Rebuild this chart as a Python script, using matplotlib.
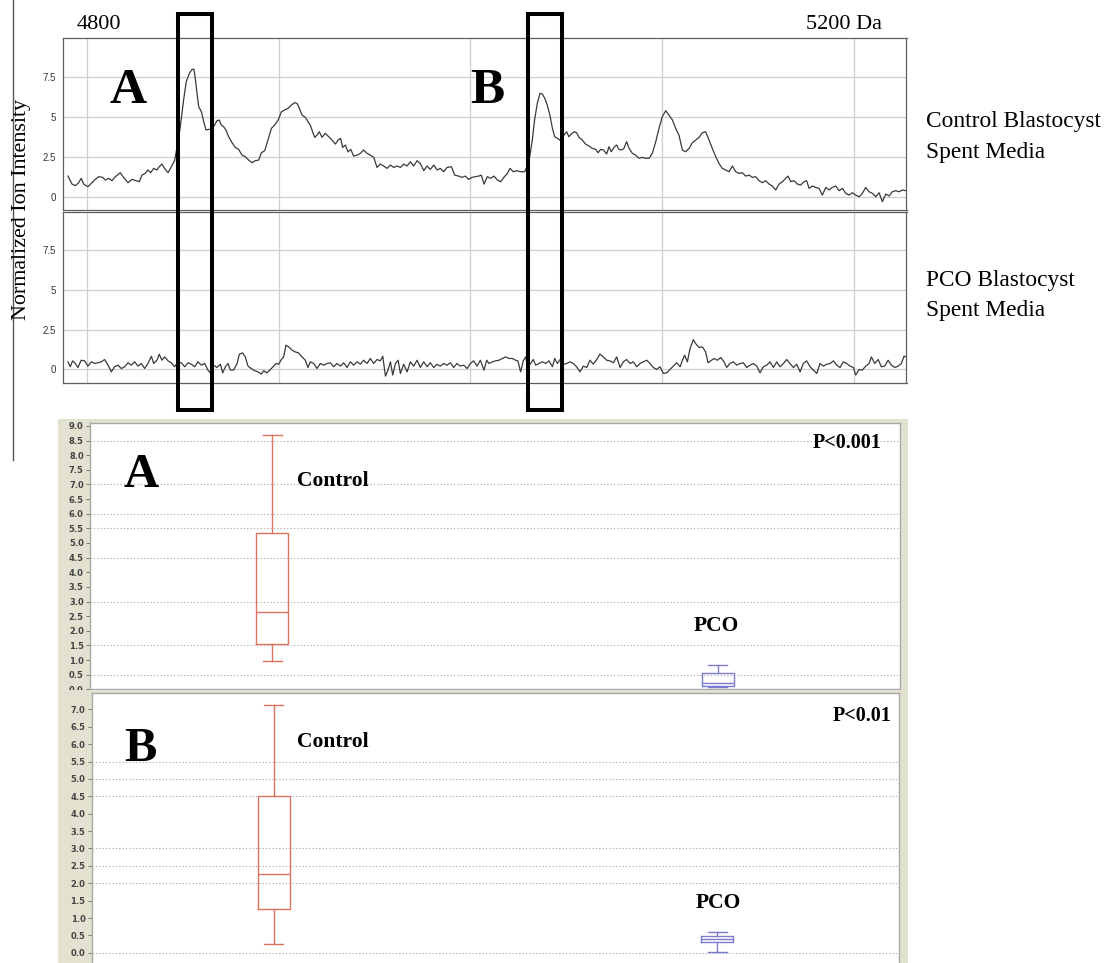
import matplotlib
matplotlib.use("Agg")
import matplotlib.pyplot as plt
from matplotlib.patches import Rectangle
from matplotlib.lines import Line2D
from matplotlib import transforms

# ---------------- data ----------------
# Control blastocyst spent media spectrum: (mass Da, normalized ion intensity)
control_spectrum = [
    (4790.1, 1.29), (4792.2, 0.79), (4793.9, 0.69), (4795.7, 0.875), (4797.0, 1.15), (4798.3, 0.79),
    (4800.5, 0.625), (4802.6, 0.875), (4804.3, 1.08), (4806.1, 1.25), (4808.2, 1.21), (4809.6, 1.04),
    (4811.3, 1.15), (4813.0, 1.0), (4814.8, 1.25), (4817.4, 1.5), (4819.1, 1.21), (4821.4, 0.875),
    (4823.5, 1.08), (4825.6, 1.0), (4827.3, 0.94), (4828.7, 1.35), (4830.4, 1.46), (4831.8, 1.67),
    (4833.2, 1.5), (4834.8, 1.77), (4836.5, 1.67), (4837.7, 1.875), (4839.1, 2.04), (4840.5, 1.77),
    (4842.3, 1.5), (4844.0, 1.875), (4845.7, 2.25), (4847.0, 3.1), (4848.7, 4.375), (4850.4, 6.04),
    (4851.8, 7.19), (4853.4, 7.71), (4854.8, 7.96), (4855.8, 7.96), (4856.5, 7.4), (4857.4, 6.46),
    (4858.3, 5.625), (4859.7, 5.3), (4860.9, 4.69), (4862.1, 4.17), (4863.8, 4.21), (4865.2, 4.27),
    (4866.6, 4.48), (4867.8, 4.75), (4869.0, 4.79), (4870.1, 4.48), (4871.3, 4.375), (4872.5, 4.17),
    (4873.9, 3.75), (4875.7, 3.375), (4877.4, 3.08), (4879.1, 2.96), (4880.9, 2.6), (4882.6, 2.5),
    (4884.3, 2.29), (4886.1, 2.125), (4887.8, 2.25), (4889.6, 2.29), (4891.0, 2.75), (4892.7, 2.875),
    (4894.4, 3.54), (4896.2, 4.27), (4897.9, 4.48), (4899.7, 4.79), (4901.4, 5.3), (4903.1, 5.42),
    (4904.9, 5.52), (4906.6, 5.73), (4908.3, 5.875), (4909.6, 5.83), (4910.8, 5.52), (4912.2, 5.1),
    (4913.9, 4.96), (4915.3, 4.69), (4916.5, 4.48), (4917.7, 4.06), (4918.8, 3.71), (4920.0, 3.85),
    (4921.2, 4.06), (4922.6, 3.71), (4924.3, 3.96), (4926.1, 3.75), (4927.8, 3.54), (4929.6, 3.29),
    (4931.0, 3.54), (4932.3, 3.65), (4933.4, 3.08), (4934.8, 3.23), (4936.2, 2.8), (4937.6, 2.96),
    (4939.1, 2.54), (4940.9, 2.6), (4942.6, 2.71), (4944.3, 2.92), (4946.1, 2.71), (4947.8, 2.6),
    (4949.6, 2.46), (4951.3, 1.83), (4953.0, 2.04), (4954.8, 1.92), (4956.5, 1.77), (4958.3, 1.98),
    (4960.0, 1.83), (4961.7, 1.92), (4963.5, 1.83), (4965.2, 2.04), (4967.0, 1.92), (4968.7, 2.19),
    (4970.4, 1.92), (4972.2, 2.25), (4973.9, 2.08), (4975.7, 1.625), (4977.4, 1.92), (4979.1, 1.71),
    (4980.9, 1.98), (4982.6, 1.67), (4984.3, 1.77), (4986.1, 1.56), (4987.8, 1.83), (4990.1, 1.875),
    (4991.8, 1.35), (4993.9, 1.29), (4995.7, 1.21), (4997.4, 1.29), (4999.1, 1.08), (5000.9, 1.21),
    (5002.6, 1.25), (5004.3, 1.29), (5005.7, 1.35),
    (5007.1, 0.79), (5008.8, 1.25), (5010.6, 1.15), (5012.3, 1.29), (5014.1, 1.04), (5015.8, 0.94),
    (5017.5, 1.21), (5019.3, 1.46), (5020.7, 1.77), (5022.4, 1.56), (5024.1, 1.625), (5026.2, 1.56),
    (5028.3, 1.56), (5029.7, 1.92), (5031.1, 2.6), (5032.3, 3.54), (5033.5, 4.79), (5034.9, 5.83),
    (5036.3, 6.46), (5037.5, 6.42), (5038.8, 6.15), (5040.1, 5.73), (5041.5, 5.1), (5042.8, 4.27),
    (5044.0, 3.75), (5045.4, 3.65), (5047.1, 3.5), (5048.8, 3.85), (5050.2, 4.06), (5051.4, 3.75),
    (5052.7, 3.92), (5054.1, 4.06), (5055.4, 4.0), (5056.7, 3.71), (5058.4, 3.54), (5060.1, 3.29),
    (5061.9, 3.17), (5063.6, 3.02), (5065.4, 2.96), (5066.6, 2.75), (5068.0, 2.96), (5069.4, 2.92),
    (5071.1, 2.67), (5072.3, 3.125), (5073.5, 2.81), (5074.9, 3.08), (5076.3, 3.23), (5077.5, 2.96),
    (5078.8, 2.92), (5080.1, 3.02), (5081.5, 3.44), (5082.8, 3.02), (5084.5, 2.71), (5086.2, 2.6),
    (5088.0, 2.4), (5089.7, 2.46), (5091.4, 2.4), (5093.2, 2.4), (5094.9, 2.71), (5096.7, 3.44),
    (5098.4, 4.27), (5100.1, 5.0), (5101.9, 5.375), (5103.6, 5.1), (5105.4, 4.79), (5107.1, 4.27),
    (5108.8, 3.85), (5110.6, 2.92), (5112.3, 2.81), (5114.1, 3.02), (5115.8, 3.375), (5117.5, 3.54),
    (5119.3, 3.71), (5121.0, 4.0), (5122.7, 4.06), (5124.5, 3.54), (5126.2, 3.02), (5128.0, 2.5),
    (5129.7, 2.08), (5131.4, 1.77), (5133.2, 1.67), (5134.9, 1.56), (5136.7, 1.92), (5138.4, 1.56),
    (5140.1, 1.46), (5141.9, 1.5), (5143.6, 1.29), (5145.4, 1.35), (5147.1, 1.21), (5148.8, 1.25),
    (5150.6, 1.0), (5152.3, 0.875), (5154.1, 1.0), (5155.8, 0.79), (5157.5, 0.67), (5159.3, 0.42),
    (5161.0, 0.79), (5162.8, 0.94), (5164.5, 1.15), (5165.7, 1.29), (5167.1, 0.94), (5168.8, 1.0),
    (5170.6, 0.79), (5172.3, 0.73), (5174.1, 0.94), (5175.4, 1.0), (5176.7, 0.52), (5178.4, 0.67),
    (5180.1, 0.58), (5181.9, 0.52), (5183.6, 0.1), (5185.4, 0.58), (5187.1, 0.42), (5188.8, 0.58),
    (5190.6, 0.67), (5192.3, 0.375), (5194.1, 0.52), (5195.8, 0.21), (5197.5, 0.1), (5199.3, 0.25),
    (5201.0, 0.1), (5202.8, 0.0), (5204.5, 0.21), (5206.2, 0.58), (5208.0, 0.31), (5209.7, 0.21),
    (5211.5, 0.0), (5213.2, 0.25), (5214.9, -0.31), (5216.7, 0.17), (5218.4, 0.04), (5220.1, 0.31),
    (5221.9, 0.375), (5223.6, 0.31), (5225.4, 0.42), (5227.1, 0.375),
]

# PCO blastocyst spent media spectrum: (mass Da, normalized ion intensity)
pco_spectrum = [
    (4790.1, 0.48), (4791.3, 0.17), (4792.5, 0.54), (4793.9, 0.375), (4795.3, 0.125), (4797.0, 0.58),
    (4798.8, 0.54), (4800.5, 0.21), (4802.3, 0.48), (4804.0, 0.375), (4805.7, 0.42), (4807.5, 0.48),
    (4809.2, 0.625), (4811.0, 0.27), (4812.7, -0.15), (4814.4, 0.17), (4816.2, 0.27), (4817.9, 0.06),
    (4819.7, 0.17), (4821.4, 0.42), (4823.1, 0.27), (4824.9, 0.48), (4826.6, 0.21), (4828.3, 0.375),
    (4830.1, 0.06), (4831.8, 0.375), (4833.6, 0.83), (4834.8, 0.375), (4836.5, 0.58), (4837.7, 0.96),
    (4839.1, 0.58), (4840.5, 0.79), (4842.3, 0.54), (4844.0, 0.42), (4845.7, 0.17), (4847.5, 0.48),
    (4849.2, 0.42), (4851.0, 0.17), (4852.7, 0.42), (4854.4, 0.33), (4856.2, 0.17), (4857.9, 0.48),
    (4859.7, 0.27), (4861.4, 0.375), (4863.1, -0.04), (4864.3, -0.21), (4866.1, 0.27), (4867.8, 0.125),
    (4869.6, 0.33), (4870.8, -0.21), (4872.2, 0.17), (4873.6, 0.375), (4874.8, -0.04), (4876.5, -0.04),
    (4878.3, 0.375), (4879.5, 0.96), (4881.2, 1.04), (4882.6, 0.79), (4884.0, 0.21), (4885.7, 0.06),
    (4887.5, -0.08), (4889.2, -0.15), (4891.0, -0.29), (4892.2, -0.08), (4893.9, -0.21), (4895.7, 0.0),
    (4897.4, 0.21), (4898.6, 0.375), (4900.0, 0.33), (4901.4, 0.625), (4902.6, 0.79), (4903.8, 1.52),
    (4905.2, 1.42), (4907.0, 1.21), (4908.7, 1.10), (4910.4, 1.04), (4912.2, 0.79), (4913.9, 0.58),
    (4915.3, 0.125), (4916.5, 0.48), (4918.3, 0.375), (4920.0, 0.06), (4921.7, 0.375), (4923.5, 0.27),
    (4925.2, 0.375), (4927.0, 0.42), (4928.7, 0.17), (4930.4, 0.375), (4932.2, 0.21), (4933.9, 0.42),
    (4935.7, 0.125), (4937.4, 0.48), (4939.1, 0.27), (4940.9, 0.48), (4942.6, 0.33), (4944.3, 0.58),
    (4946.1, 0.375), (4947.8, 0.69), (4949.6, 0.375), (4951.3, 0.625), (4953.0, 0.54), (4954.3, 0.83),
    (4955.7, -0.42), (4957.0, -0.04), (4958.3, 0.48), (4959.5, -0.35), (4960.9, 0.375), (4962.3, 0.58),
    (4963.5, -0.25), (4965.2, 0.33), (4967.0, -0.15), (4968.7, 0.48), (4970.4, 0.21), (4972.2, 0.58),
    (4973.9, 0.125), (4975.7, 0.48), (4977.4, 0.17), (4979.1, 0.42), (4980.9, 0.125), (4982.6, 0.33),
    (4984.3, 0.21), (4986.1, 0.375), (4987.8, 0.27), (4989.6, 0.42), (4991.3, 0.125), (4993.0, 0.375),
    (4994.8, 0.21), (4996.5, 0.27), (4998.3, 0.06), (5000.0, 0.375), (5001.7, 0.54), (5003.5, 0.21),
    (5005.2, 0.58),
    (5007.1, -0.04), (5008.5, 0.58), (5009.7, 0.375), (5011.4, 0.48), (5013.2, 0.54), (5014.9, 0.58),
    (5016.7, 0.69), (5018.4, 0.79), (5020.1, 0.69), (5021.9, 0.69), (5023.6, 0.58), (5024.8, 0.54),
    (5026.2, -0.15), (5027.6, 0.54), (5028.8, 0.79), (5030.1, 0.17), (5031.4, 0.375), (5032.8, 0.625),
    (5034.1, 0.27), (5035.8, 0.375), (5037.5, 0.48), (5039.3, 0.375), (5041.0, 0.54), (5042.8, 0.17),
    (5044.0, 0.69), (5045.4, 0.375), (5046.8, 0.625), (5048.5, 0.33), (5050.2, 0.375), (5052.0, 0.48),
    (5053.7, 0.375), (5055.4, 0.17), (5057.2, -0.15), (5058.9, 0.21), (5060.7, 0.125), (5062.4, 0.58),
    (5064.1, 0.33), (5065.9, 0.625), (5067.6, 0.96), (5069.4, 0.79), (5071.1, 0.58), (5072.8, 0.54),
    (5074.6, 0.42), (5076.3, 0.79), (5078.1, 0.125), (5079.8, 0.48), (5081.5, 0.625), (5083.3, 0.375),
    (5085.0, 0.48), (5086.8, 0.17), (5088.5, 0.375), (5090.2, 0.48), (5092.0, 0.58), (5093.7, 0.375),
    (5095.4, 0.125), (5097.2, 0.0), (5098.9, 0.17), (5100.7, -0.25), (5102.4, -0.21), (5104.1, 0.0),
    (5105.9, 0.21), (5107.6, 0.42), (5109.4, 0.17), (5110.6, 0.58), (5111.8, 0.90), (5113.2, 0.48),
    (5114.6, 1.31), (5116.3, 1.875), (5117.5, 1.625), (5119.3, 1.375), (5121.0, 1.42), (5122.7, 1.10),
    (5124.0, 0.42), (5125.4, 0.54), (5127.1, 0.69), (5128.8, 0.58), (5130.6, 0.75), (5132.3, 0.48),
    (5133.7, 0.125), (5135.4, 0.375), (5137.2, 0.48), (5138.9, 0.27), (5140.7, 0.375), (5142.4, 0.42),
    (5144.1, 0.125), (5145.9, 0.27), (5147.6, 0.375), (5149.4, 0.21), (5151.1, -0.21), (5152.8, 0.17),
    (5154.6, 0.27), (5156.3, 0.48), (5158.1, 0.125), (5159.8, 0.48), (5161.5, 0.17), (5163.3, 0.375),
    (5165.0, 0.625), (5166.7, 0.375), (5168.5, 0.125), (5170.2, 0.33), (5172.0, -0.15), (5173.7, 0.375),
    (5175.4, 0.54), (5177.2, 0.17), (5178.9, -0.04), (5180.7, -0.25), (5182.4, 0.375), (5184.1, 0.21),
    (5185.9, 0.33), (5187.6, 0.375), (5189.4, 0.54), (5191.1, 0.27), (5192.8, 0.125), (5194.6, 0.48),
    (5196.3, 0.375), (5198.1, 0.21), (5199.8, 0.125), (5201.0, -0.35), (5202.8, 0.0), (5204.5, -0.04),
    (5206.2, 0.21), (5208.0, 0.375), (5209.2, 0.79), (5210.9, 0.375), (5212.7, 0.625), (5214.4, 0.17),
    (5216.1, 0.21), (5217.9, 0.58), (5219.6, 0.27), (5221.4, 0.125), (5223.1, 0.21), (5224.8, 0.375),
    (5226.2, 0.83), (5227.6, 0.79),
]

# highlighted mass windows (Da)
region_A = (4847.5, 4865.2)
region_B = (5030.2, 5047.8)
spectrum_ticks = [0, 2.5, 5, 7.5]
spectrum_ticklabels = ["0", "2.5", "5", "7.5"]
mass_grid = [4800, 4900, 5000, 5100, 5200]

# box plots: whisker low, Q1, median, Q3, whisker high
groups = ["Control", "PCO"]
peakA_control = [0.95, 1.55, 2.65, 5.35, 8.7]
peakA_pco = [0.08, 0.10, 0.22, 0.56, 0.83]
peakB_control = [0.25, 1.25, 2.28, 4.5, 7.13]
peakB_pco = [0.01, 0.32, 0.40, 0.48, 0.59]
pvalA = "P<0.001"
pvalB = "P<0.01"
ticksA = [0.0, 0.5, 1.0, 1.5, 2.0, 2.5, 3.0, 3.5, 4.0, 4.5, 5.0, 5.5, 6.0, 6.5, 7.0, 7.5, 8.0, 8.5, 9.0]
ticksB = [0.0, 0.5, 1.0, 1.5, 2.0, 2.5, 3.0, 3.5, 4.0, 4.5, 5.0, 5.5, 6.0, 6.5, 7.0]
gridA = [0.5, 1.5, 3.0, 4.5, 5.5, 6.0, 7.0, 8.5]
gridB = [0.0, 2.0, 2.5, 3.0, 4.5, 5.0, 5.5]

# ---------------- figure ----------------
W, H = 1116, 963
fig = plt.figure(figsize=(W / 100, H / 100), dpi=100)
fig.patch.set_facecolor("white")

SERIF = ["Liberation Serif", "DejaVu Serif"]
SANS = ["Liberation Sans", "DejaVu Sans"]


def ax_px(x0, y0, x1, y1, **kw):
    return fig.add_axes([x0 / W, 1 - y1 / H, (x1 - x0) / W, (y1 - y0) / H], **kw)


def ftext(x, y, s, **kw):
    return fig.text(x / W, 1 - y / H, s, **kw)


# ---- spectra ----
def spectrum_panel(ax, data):
    m = [p[0] for p in data]
    v = [p[1] for p in data]
    ax.set_xlim(4787.5, 5227.5)
    ax.set_ylim(-0.83, 9.9)
    for g in mass_grid:
        ax.axvline(g, color="#cfcfcf", lw=0.9, zorder=0)
    for t in spectrum_ticks:
        ax.axhline(t, color="#cfcfcf", lw=0.9, zorder=0)
    ax.plot(m, v, color="#3a3a3a", lw=0.9, zorder=2)
    ax.set_xticks([])
    ax.set_yticks(spectrum_ticks)
    ax.set_yticklabels(spectrum_ticklabels, fontsize=7, family=SANS, color="#333333")
    ax.tick_params(axis="y", length=0, pad=5)
    for s in ax.spines.values():
        s.set_color("#5f5f5f")
        s.set_linewidth(0.9)


ax1 = ax_px(63, 38.3, 906.5, 210)
spectrum_panel(ax1, control_spectrum)
ax2 = ax_px(63, 211.7, 906.5, 382.7)
spectrum_panel(ax2, pco_spectrum)

# highlight rectangles (x in mass units, y in figure fraction)
trans = transforms.blended_transform_factory(ax1.transData, fig.transFigure)
for lo, hi in (region_A, region_B):
    r = Rectangle((lo, 1 - 410 / H), hi - lo, (410 - 14) / H, transform=trans,
                  fill=False, edgecolor="black", lw=2.9, clip_on=False, zorder=5)
    fig.patches.append(r)

# texts around spectra
ftext(77, 29, "4800", fontsize=16, family=SERIF, va="baseline", ha="left")
ftext(806, 29, "5200 Da", fontsize=16, family=SERIF, va="baseline", ha="left")
ftext(128.5, 103, "A", fontsize=37, family=SERIF, weight="bold", va="baseline", ha="center")
ftext(487.5, 103, "B", fontsize=37, family=SERIF, weight="bold", va="baseline", ha="center")
ftext(926, 127, "Control Blastocyst", fontsize=16.8, family=SERIF, va="baseline", ha="left")
ftext(926, 158, "Spent Media", fontsize=16.8, family=SERIF, va="baseline", ha="left")
ftext(926, 286, "PCO Blastocyst", fontsize=16.8, family=SERIF, va="baseline", ha="left")
ftext(926, 316, "Spent Media", fontsize=16.8, family=SERIF, va="baseline", ha="left")
ftext(22, 210, "Normalized Ion Intensity", fontsize=15.8, family=SERIF, rotation=90,
      va="center", ha="center")
fig.lines.append(Line2D([12.5 / W, 12.5 / W], [1, 1 - 460 / H], transform=fig.transFigure,
                        color="#555555", lw=1.0))

# ---- box plots ----
BEIGE = "#e3e2d0"
RED = "#e07260"
BLUE = "#7b7bd0"


def bg(x0, y0, x1, y1):
    a = ax_px(x0, y0, x1, y1)
    a.set_facecolor(BEIGE)
    a.set_xticks([])
    a.set_yticks([])
    for s in a.spines.values():
        s.set_visible(False)
    return a


def box_panel(ax, ctrl, pco, ylim, ticks, grid):
    ax.set_xlim(0.59, 2.41)
    ax.set_ylim(*ylim)
    for g in grid:
        ax.axhline(g, color="#b0b0b0", lw=0.8, ls=(0, (1.2, 1.8)), zorder=0)
    stats = []
    for name, q in zip(groups, (ctrl, pco)):
        stats.append(dict(label=name, whislo=q[0], q1=q[1], med=q[2], q3=q[3], whishi=q[4], fliers=[]))
    for i, (st, col) in enumerate(zip(stats, (RED, BLUE))):
        ax.bxp([st], positions=[i + 1], widths=0.072, capwidths=0.043, showfliers=False,
               boxprops=dict(color=col, lw=1.0), medianprops=dict(color=col, lw=1.0),
               whiskerprops=dict(color=col, lw=1.0), capprops=dict(color=col, lw=1.0),
               manage_ticks=False)
    ax.set_xticks([])
    ax.set_yticks(ticks)
    ax.set_yticklabels([f"{t:.1f}" for t in ticks], fontsize=6, weight="bold",
                       family=["DejaVu Sans"], color="#444444")
    ax.tick_params(axis="y", length=3, width=0.7, color="#777777", pad=1.5)
    for s in ax.spines.values():
        s.set_color("#a8a8a8")
        s.set_linewidth(1.0)


bg(58, 419, 908, 690)
axA = ax_px(90, 422.7, 900, 689.3)
box_panel(axA, peakA_control, peakA_pco, (0.04, 9.11), ticksA, gridA)
bg(58, 690, 908, 970)
axB = ax_px(91.7, 692.7, 899, 966)
box_panel(axB, peakB_control, peakB_pco, (-0.38, 7.48), ticksB, gridB)

ftext(141, 487, "A", fontsize=35, family=SERIF, weight="bold", va="baseline", ha="center")
ftext(297, 486, groups[0], fontsize=15.5, family=SERIF, weight="bold", va="baseline", ha="left")
ftext(716.5, 631, groups[1], fontsize=15.5, family=SERIF, weight="bold", va="baseline", ha="center")
ftext(881, 448, pvalA, fontsize=14.5, family=SERIF, weight="bold", va="baseline", ha="right")

ftext(140, 761, "B", fontsize=35, family=SERIF, weight="bold", va="baseline", ha="center")
ftext(297, 747, groups[0], fontsize=15.5, family=SERIF, weight="bold", va="baseline", ha="left")
ftext(718, 908, groups[1], fontsize=15.5, family=SERIF, weight="bold", va="baseline", ha="center")
ftext(891, 721, pvalB, fontsize=14.5, family=SERIF, weight="bold", va="baseline", ha="right")

fig.savefig("out.png", dpi=100, facecolor="white")
